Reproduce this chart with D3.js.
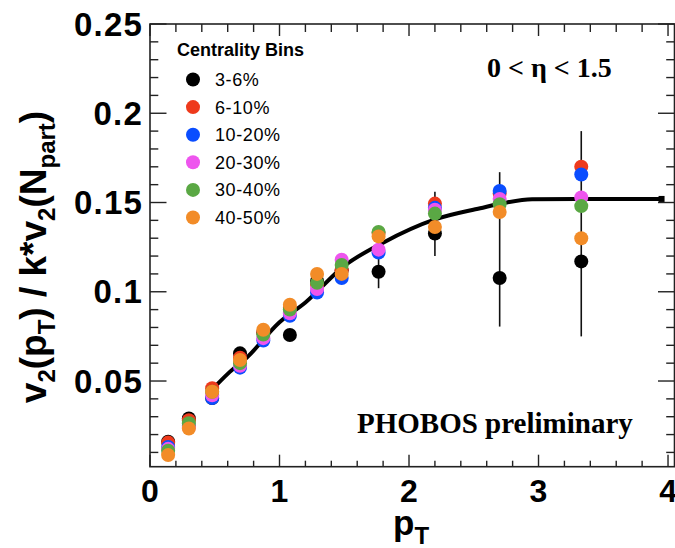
<!DOCTYPE html>
<html>
<head>
<meta charset="utf-8">
<script src="https://cdn.jsdelivr.net/npm/d3@7"></script>
<style>
  body { margin: 0; background: #fff; }
  svg { display: block; }
</style>
</head>
<body>
<div id="chart"></div>
<script>
// pT bin centres
const ptBins = [0.14, 0.30, 0.48, 0.695, 0.875, 1.08, 1.29, 1.48, 1.765, 2.2, 2.7, 3.33];

const seriesNames = ["3-6%", "6-10%", "10-20%", "20-30%", "30-40%", "40-50%"];
const seriesColours = ["#000000", "#ee3a1c", "#0a4dff", "#ee55ee", "#5aa844", "#f28c28"];

const v2_3_6   = [0.016, 0.029, 0.0405, 0.0655, 0.077, 0.0758, 0.106, 0.112, 0.1112, 0.1326, 0.1077, 0.117];
const v2_6_10  = [0.0155, 0.028, 0.046, 0.063, 0.077, 0.091, 0.104, 0.112, 0.133, 0.1494, 0.155, 0.170];
const v2_10_20 = [0.013, 0.025, 0.0405, 0.0575, 0.0727, 0.0865, 0.0996, 0.1077, 0.122, 0.147, 0.1565, 0.1657];
const v2_20_30 = [0.012, 0.024, 0.042, 0.0585, 0.074, 0.088, 0.1015, 0.118, 0.1236, 0.146, 0.152, 0.1528];
const v2_30_40 = [0.011, 0.0264, 0.044, 0.060, 0.076, 0.090, 0.105, 0.115, 0.1335, 0.1438, 0.149, 0.148];
const v2_40_50 = [0.0085, 0.0234, 0.044, 0.0618, 0.0787, 0.0927, 0.110, 0.110, 0.131, 0.1363, 0.1447, 0.130];

// error bars (only the visible ones)
const errX  = [1.765, 2.2, 2.7, 3.33];
const errLo = [0.102, 0.120, 0.0805, 0.075];
const errHi = [0.120, 0.156, 0.167, 0.190];

// fitted curve
const fitX = [0.49, 0.6, 0.75, 1.0, 1.2, 1.5, 1.8, 2.2, 2.55, 2.75, 2.95, 3.3, 3.95];
const fitY = [0.046, 0.054, 0.0633, 0.0829, 0.094, 0.1145, 0.1275, 0.1405, 0.1468, 0.1500, 0.1518, 0.152, 0.152];

const xTickLabels = [0, 1, 2, 3, 4];
const yTickLabels = [0.05, 0.1, 0.15, 0.2, 0.25];

const allSeries = [v2_3_6, v2_6_10, v2_10_20, v2_20_30, v2_30_40, v2_40_50];

const svgWidth = 675, svgHeight = 548;
const margin = {top: 24, right: 0.5, bottom: 81.3, left: 150};
const width = svgWidth - margin.left - margin.right;
const height = svgHeight - margin.top - margin.bottom;

const svg = d3.select("#chart").append("svg")
    .attr("width", svgWidth)
    .attr("height", svgHeight);

const plotArea = svg.append("g")
    .attr("transform", `translate(${margin.left}, ${margin.top})`);

const xscale = d3.scaleLinear().domain([0, 4.05]).range([0, width]);
const yscale = d3.scaleLinear().domain([0.002, 0.25]).range([height, 0]);

// frame
plotArea.append("rect")
    .attr("width", width)
    .attr("height", height)
    .attr("fill", "none")
    .attr("stroke", "#222")
    .attr("stroke-width", 1.6);

const xMinor = d3.range(0, 4.01, 0.2);
const yMinor = d3.range(0.01, 0.2501, 0.01);
const isMajorX = v => Math.abs(v - Math.round(v)) < 1e-6;
const isMajorY = v => Math.abs(v * 20 - Math.round(v * 20)) < 1e-6;

const ticks = plotArea.append("g").attr("stroke", "#222").attr("stroke-width", 1.4);

xMinor.forEach(v => {
    const len = isMajorX(v) ? 12 : 6;
    const x = xscale(v);
    ticks.append("line").attr("x1", x).attr("x2", x).attr("y1", height).attr("y2", height - len);
    ticks.append("line").attr("x1", x).attr("x2", x).attr("y1", 0).attr("y2", isMajorX(v) ? 12 : 8);
});

yMinor.forEach(v => {
    const len = isMajorY(v) ? 16.5 : 8.3;
    const y = yscale(v);
    ticks.append("line").attr("x1", 0).attr("x2", len).attr("y1", y).attr("y2", y);
    ticks.append("line").attr("x1", width).attr("x2", width - len).attr("y1", y).attr("y2", y);
});

// tick labels
plotArea.append("g").selectAll("text")
    .data(xTickLabels)
    .join("text")
        .attr("x", d => xscale(d))
        .attr("y", height + 35)
        .attr("text-anchor", "middle")
        .attr("font-family", "Liberation Sans, Arial, sans-serif")
        .attr("font-weight", "bold")
        .attr("font-size", 32)
        .text(d => d);

plotArea.append("g").selectAll("text")
    .data(yTickLabels)
    .join("text")
        .attr("x", -7)
        .attr("y", d => yscale(d) + 11.5)
        .attr("text-anchor", "end")
        .attr("font-family", "Liberation Sans, Arial, sans-serif")
        .attr("font-weight", "bold")
        .attr("font-size", 33)
        .attr("letter-spacing", 1.2)
        .text(d => d);

// axis titles
const xTitle = svg.append("text")
    .attr("x", 393)
    .attr("y", 535)
    .attr("font-family", "Liberation Sans, Arial, sans-serif")
    .attr("font-weight", "bold")
    .attr("font-size", 35);
xTitle.append("tspan").text("p");
xTitle.append("tspan").attr("dy", 9).attr("font-size", 24).text("T");

const yTitle = svg.append("text")
    .attr("transform", "translate(46, 257) rotate(-90)")
    .attr("text-anchor", "middle")
    .attr("font-family", "Liberation Sans, Arial, sans-serif")
    .attr("font-weight", "bold")
    .attr("font-size", 37);
yTitle.append("tspan").text("v");
yTitle.append("tspan").attr("dy", 9).attr("font-size", 24).text("2");
yTitle.append("tspan").attr("dy", -9).text("(p");
yTitle.append("tspan").attr("dy", 9).attr("font-size", 24).text("T");
yTitle.append("tspan").attr("dy", -9).text(") / k*v");
yTitle.append("tspan").attr("dy", 9).attr("font-size", 24).text("2");
yTitle.append("tspan").attr("dy", -9).text("(N");
yTitle.append("tspan").attr("dy", 9).attr("font-size", 24).text("part");
yTitle.append("tspan").attr("dy", -9).text(")");

// error bars
plotArea.append("g").selectAll("line")
    .data(errX)
    .join("line")
        .attr("x1", d => xscale(d))
        .attr("x2", d => xscale(d))
        .attr("y1", (d, i) => yscale(errLo[i]))
        .attr("y2", (d, i) => yscale(errHi[i]))
        .attr("stroke", "#111")
        .attr("stroke-width", 1.6);

// fit curve
const line = d3.line()
    .x(d => xscale(d[0]))
    .y(d => yscale(d[1]))
    .curve(d3.curveMonotoneX);

const fitData = fitX.map((x, i) => [x, fitY[i]]);
plotArea.append("path")
    .datum(fitData)
    .attr("fill", "none")
    .attr("stroke", "#000")
    .attr("stroke-width", 4)
    .attr("d", line);

plotArea.append("rect")
    .attr("x", xscale(fitX[fitX.length - 1]) - 3)
    .attr("y", yscale(fitY[fitY.length - 1]) - 3)
    .attr("width", 6)
    .attr("height", 6)
    .attr("fill", "#000");

// markers
allSeries.forEach((vals, s) => {
    plotArea.append("g").selectAll("circle")
        .data(vals)
        .join("circle")
            .attr("cx", (d, i) => xscale(ptBins[i]))
            .attr("cy", d => yscale(d))
            .attr("r", 7)
            .attr("fill", seriesColours[s]);
});

// legend
svg.append("text")
    .attr("x", 177)
    .attr("y", 56)
    .attr("font-family", "Liberation Sans, Arial, sans-serif")
    .attr("font-weight", "bold")
    .attr("font-size", 18)
    .text("Centrality Bins");

const legend = svg.append("g").selectAll("g")
    .data(seriesNames)
    .join("g")
        .attr("transform", (d, i) => `translate(193, ${79.5 + i * 27.6})`);

legend.append("circle")
    .attr("r", 7)
    .attr("fill", (d, i) => seriesColours[i]);

legend.append("text")
    .attr("x", 22)
    .attr("y", 6.5)
    .attr("font-family", "Liberation Sans, Arial, sans-serif")
    .attr("font-size", 18)
    .attr("letter-spacing", 0.6)
    .text(d => d);

// labels
svg.append("text")
    .attr("x", 487)
    .attr("y", 77)
    .attr("font-family", "Liberation Serif, Times New Roman, serif")
    .attr("font-weight", "bold")
    .attr("font-size", 28)
    .text("0 < η < 1.5");

svg.append("text")
    .attr("x", 357)
    .attr("y", 433)
    .attr("font-family", "Liberation Serif, Times New Roman, serif")
    .attr("font-weight", "bold")
    .attr("font-size", 29)
    .text("PHOBOS preliminary");
</script>
</body>
</html>
